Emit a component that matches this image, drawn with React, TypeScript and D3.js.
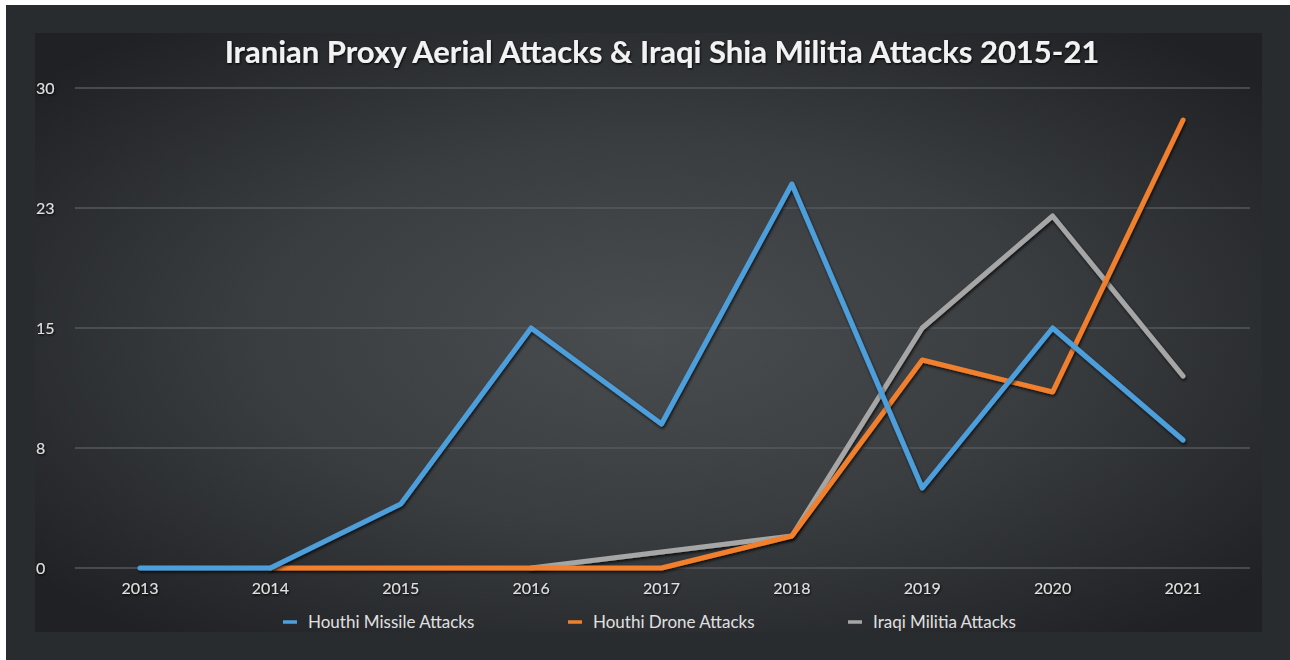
import React from "react";
import * as d3 from "d3";

const years = ["2013", "2014", "2015", "2016", "2017", "2018", "2019", "2020", "2021"];
const missileYears = ["2013", "2014", "2015", "2016", "2017", "2018", "2019", "2020", "2021"];
const missileValues = [0, 0, 4, 15, 9, 24, 5, 15, 8];
const droneYears = ["2014", "2015", "2016", "2017", "2018", "2019", "2020", "2021"];
const droneValues = [0, 0, 0, 0, 2, 13, 11, 28];
const iraqiYears = ["2016", "2017", "2018", "2019", "2020", "2021"];
const iraqiValues = [0, 1, 2, 15, 22, 12];
const yTicks = [0, 7.5, 15, 22.5, 30];
const title = "Iranian Proxy Aerial Attacks & Iraqi Shia Militia Attacks 2015-21";

const seriesNames = ["Houthi Missile Attacks", "Houthi Drone Attacks", "Iraqi Militia Attacks"];
const seriesColors = ["#4e9fdc", "#f0802e", "#a6a6a6"];

const W = 1290;
const H = 660;
const FONT = "Lato, 'Open Sans', sans-serif";

export default function App() {
  const x = d3.scalePoint<string>().domain(years).range([140, 1183]);
  const y = d3.scaleLinear().domain([0, 30]).range([568, 88]);
  const line = d3
    .line<[string, number]>()
    .x((d) => x(d[0]) as number)
    .y((d) => y(d[1]));

  const series = [
    { name: seriesNames[0], color: seriesColors[0], pts: missileYears.map((yr, i) => [yr, missileValues[i]] as [string, number]) },
    { name: seriesNames[1], color: seriesColors[1], pts: droneYears.map((yr, i) => [yr, droneValues[i]] as [string, number]) },
    { name: seriesNames[2], color: seriesColors[2], pts: iraqiYears.map((yr, i) => [yr, iraqiValues[i]] as [string, number]) },
  ];
  const drawOrder = [2, 1, 0];
  const legendX = [283, 568, 848];

  return (
    <svg
      width={W}
      height={H}
      style={{ position: "absolute", left: 0, top: 0, display: "block" }}
    >
      <defs>
        <radialGradient id="bg" cx="0.5" cy="0.5" r="0.65">
          <stop offset="0" stopColor="#4a4d50" />
          <stop offset="0.5" stopColor="#3a3d40" />
          <stop offset="1" stopColor="#1f2124" />
        </radialGradient>
        <filter id="shadow" x="-10%" y="-10%" width="120%" height="130%">
          <feDropShadow dx="1" dy="2" stdDeviation="1.5" floodColor="#000" floodOpacity="0.75" />
        </filter>
        <filter id="tshadow" x="-10%" y="-20%" width="120%" height="150%">
          <feDropShadow dx="0.8" dy="1.2" stdDeviation="0.8" floodColor="#000" floodOpacity="0.9" />
        </filter>
      </defs>
      <rect x={0} y={0} width={W} height={H} fill="#ffffff" />
      <rect x={6} y={5} width={W - 6} height={H - 5} fill="#282c2f" />
      <rect x={35} y={33} width={1227} height={599} fill="url(#bg)" />

      <text
        x={662}
        y={63}
        textAnchor="middle"
        fill="#f2f2f2"
        fontFamily={FONT}
        fontWeight={700}
        fontSize={31}
        filter="url(#tshadow)"
      >
        {title}
      </text>

      {yTicks.map((t) => (
        <g key={t}>
          <line x1={75} x2={1250} y1={y(t)} y2={y(t)} stroke="#55585b" strokeWidth={1.5} />
          <text
            x={36}
            y={y(t)}
            dy="0.35em"
            fill="#e0e0e0"
            fontFamily={FONT}
            fontSize={16}
            filter="url(#tshadow)"
          >
            {Math.round(t)}
          </text>
        </g>
      ))}

      {years.map((yr) => (
        <text
          key={yr}
          x={x(yr) as number}
          y={588}
          dy="0.35em"
          textAnchor="middle"
          fill="#e0e0e0"
          fontFamily={FONT}
          fontSize={16}
          filter="url(#tshadow)"
        >
          {yr}
        </text>
      ))}

      {drawOrder.map((i) => (
        <path
          key={series[i].name}
          d={line(series[i].pts) as string}
          fill="none"
          stroke={series[i].color}
          strokeWidth={5}
          strokeLinejoin="round"
          strokeLinecap="round"
          filter="url(#shadow)"
        />
      ))}

      {series.map((s, i) => (
        <g key={s.name}>
          <line x1={legendX[i]} x2={legendX[i] + 14} y1={622} y2={622} stroke={s.color} strokeWidth={3.5} />
          <text
            x={legendX[i] + 25}
            y={622}
            dy="0.35em"
            fill="#e0e0e0"
            fontFamily={FONT}
            fontSize={17}
          >
            {s.name}
          </text>
        </g>
      ))}
    </svg>
  );
}
